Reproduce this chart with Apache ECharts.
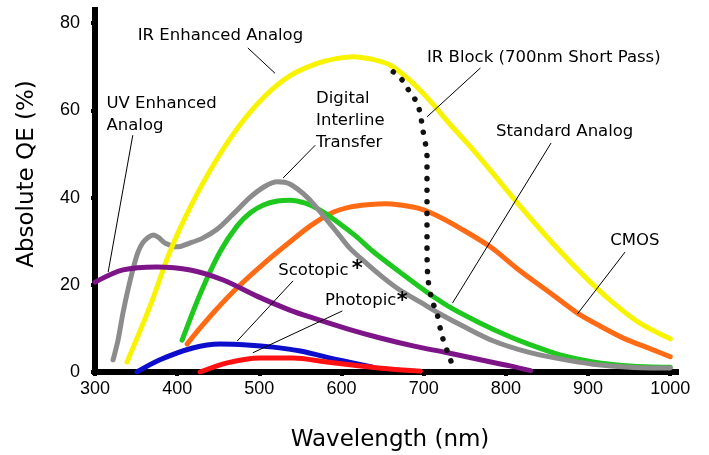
<!DOCTYPE html>
<html>
<head>
<meta charset="utf-8">
<script src="https://cdn.jsdelivr.net/npm/echarts@6/dist/echarts.min.js"></script>
<style>
  html, body { margin: 0; padding: 0; background: #ffffff; }
  #chart { width: 709px; height: 455px; }
</style>
</head>
<body>
<div id="chart"></div>
<script>
// Axis ticks
const wavelengthTicks = [300, 400, 500, 600, 700, 800, 900, 1000];
const qeTicks = [0, 20, 40, 60, 80];

// Quantum efficiency curves: [wavelength (nm), absolute QE (%)]
const irEnhancedAnalog = [
  [339, 2.3], [367, 15.1], [391, 27.5], [416, 37.8], [446, 48.1], [477, 56.8],
  [507, 63.3], [537, 67.9], [568, 70.6], [595, 71.9], [615, 72.3], [637, 71.7],
  [659, 70.4], [683, 66.9], [708, 62.1], [732, 56.8], [757, 51.6], [787, 44.9],
  [817, 38.1], [858, 29.3], [899, 21.3], [931, 15.8], [963, 11.2], [1000, 7.6]
];
const digitalInterline = [
  [322, 2.8], [328, 7.3], [334, 13.5], [340, 18.8], [346, 23.4], [352, 27.3],
  [358, 29.6], [365, 30.9], [371, 31.4], [377, 30.9], [385, 29.6], [400, 28.7],
  [416, 29.6], [431, 30.7], [449, 32.8], [468, 36.2], [489, 40.1], [507, 42.6],
  [522, 43.6], [537, 43.1], [558, 40.1], [578, 35.8], [595, 31.9], [610, 28.4],
  [631, 24.8], [653, 21.3], [671, 18.8], [696, 16.0], [720, 13.3], [750, 10.3],
  [785, 7.1], [826, 4.6], [866, 3.0], [906, 1.8], [951, 1.1], [1000, 0.9]
];
const cmos = [
  [406, 7.3], [428, 17.9], [452, 27.5], [473, 33.5], [489, 36.5], [505, 38.3],
  [522, 39.2], [537, 39.4], [556, 38.7], [574, 37.1], [595, 34.4], [617, 31.2],
  [638, 27.7], [671, 22.9], [704, 18.3], [736, 14.4], [769, 11.2], [802, 8.3],
  [826, 6.5], [866, 3.9], [906, 2.3], [951, 1.4], [1000, 1.1]
];
const standardAnalog = [
  [412, 6.4], [428, 10.1], [446, 14.0], [473, 19.3], [505, 24.8], [537, 29.8],
  [562, 33.5], [586, 36.3], [610, 37.8], [635, 38.4], [653, 38.6], [671, 38.3],
  [696, 37.4], [720, 35.5], [744, 33.0], [781, 28.7], [817, 23.2], [854, 18.1],
  [887, 13.5], [915, 10.5], [945, 7.6], [976, 5.3], [1000, 3.5]
];
const uvEnhancedAnalog = [
  [300, 20.6], [334, 23.4], [375, 24.1], [416, 23.4], [456, 21.1], [497, 17.4],
  [537, 14.2], [565, 12.4], [607, 9.9], [647, 7.8], [687, 6.0], [729, 4.4],
  [769, 2.8], [805, 1.4], [830, 0.3]
];
const scotopic = [
  [351, 0.0], [379, 2.8], [419, 5.5], [452, 6.4], [485, 6.2], [517, 5.7],
  [550, 4.8], [595, 2.8], [638, 1.1]
];
const photopic = [
  [428, 0.0], [461, 2.1], [501, 3.2], [541, 3.2], [582, 2.3], [623, 1.4],
  [659, 0.7], [696, 0.2]
];
const irBlock = [
  [663, 68.8], [674, 66.9], [683, 64.2], [692, 61.7], [696, 58.9], [699, 55.5],
  [704, 49.3], [704, 39.4], [704, 30.3], [705, 21.8], [710, 16.5], [716, 13.5],
  [722, 8.5], [729, 4.6], [735, 1.6]
];

// Callout layout: text anchor and leader line ends, in axis units
const callouts = [
  { text: 'IR Enhanced Analog', at: [352, 77.0], leader: [[486, 74.3], [519, 68.5]] },
  { text: 'UV Enhanced\nAnalog', at: [314, 61.4], leader: [[346, 54.3], [316, 22.9]] },
  { text: 'Digital\nInterline\nTransfer', at: [569, 62.6], leader: [[568, 52.0], [529, 44.5]] },
  { text: 'IR Block (700nm Short Pass)', at: [704, 72.0], leader: [[769, 69.7], [704, 58.5]] },
  { text: 'Standard Analog', at: [788, 55.0], leader: [[855, 52.5], [735, 15.8]] },
  { text: 'CMOS', at: [927, 30.0], leader: [[945, 27.5], [887, 13.3]] },
  { text: 'Scotopic', at: [523, 23.2], star: [619, 23.4], leader: [[541, 20.9], [473, 7.1]] },
  { text: 'Photopic', at: [580, 16.3], star: [674, 16.2], leader: [[601, 14.0], [492, 4.4]] }
];

const FONT = 'DejaVu Sans';
const TICK_FONT = 'Liberation Sans';

function curve(name, data, color, z) {
  return {
    name: name,
    type: 'line',
    data: data,
    smooth: 0.3,
    showSymbol: false,
    symbol: 'none',
    z: z,
    lineStyle: { color: color, width: 5, cap: 'round', join: 'round' }
  };
}

const chart = echarts.init(document.getElementById('chart'), null, { renderer: 'canvas' });

const irBlockSeries = curve('IR Block', irBlock, '#111111', 20);
irBlockSeries.lineStyle = { color: '#111111', width: 5.5, type: [0.1, 11.5], cap: 'round' };

chart.setOption({
  animation: false,
  backgroundColor: '#ffffff',
  grid: { left: 95, right: 33, top: 10, bottom: 83 },
  xAxis: {
    type: 'value',
    min: 300,
    max: 1007,
    interval: 100,
    axisLine: { lineStyle: { color: '#000000', width: 6, cap: 'square' } },
    axisTick: {
      customValues: wavelengthTicks,
      length: 4,
      lineStyle: { color: '#000000', width: 4 }
    },
    axisLabel: {
      customValues: wavelengthTicks,
      formatter: (v) => String(v),
      margin: 8,
      color: '#000000',
      fontFamily: TICK_FONT,
      fontSize: 18
    },
    splitLine: { show: false }
  },
  yAxis: {
    type: 'value',
    min: 0,
    max: 83,
    interval: 20,
    axisLine: { show: true, lineStyle: { color: '#000000', width: 6, cap: 'square' } },
    axisTick: {
      show: true,
      customValues: qeTicks,
      length: 4,
      lineStyle: { color: '#000000', width: 4 }
    },
    axisLabel: {
      customValues: qeTicks,
      formatter: (v) => String(v),
      margin: 15,
      color: '#000000',
      fontFamily: TICK_FONT,
      fontSize: 18
    },
    splitLine: { show: false }
  },
  series: [
    curve('Scotopic', scotopic, '#0d0dcc', 2),
    curve('Photopic', photopic, '#ff1111', 3),
    curve('Standard Analog', standardAnalog, '#ff6a14', 4),
    curve('CMOS', cmos, '#1ec81e', 5),
    curve('Digital Interline Transfer', digitalInterline, '#8c8c8c', 6),
    curve('IR Enhanced Analog', irEnhancedAnalog, '#f8f400', 7),
    curve('UV Enhanced Analog', uvEnhancedAnalog, '#7d1589', 8),
    irBlockSeries
  ]
});

// Axis titles and callouts
const px = (p) => chart.convertToPixel({ gridIndex: 0 }, p);
const graphics = [
  {
    type: 'text', x: 390, y: 440, z: 50,
    style: { text: 'Wavelength (nm)', fontFamily: FONT, fontSize: 23, fill: '#000', align: 'center', verticalAlign: 'middle' }
  },
  {
    type: 'text', x: 27, y: 174, rotation: Math.PI / 2, z: 50,
    style: { text: 'Absolute QE (%)', fontFamily: FONT, fontSize: 23, fill: '#000', align: 'center', verticalAlign: 'middle' }
  }
];
callouts.forEach(function (c) {
  const a = px(c.at);
  const multi = c.text.indexOf('\n') >= 0;
  graphics.push({
    type: 'text', x: a[0], y: multi ? a[1] - 11 : a[1], z: 50,
    style: {
      text: c.text, fontFamily: FONT, fontSize: 16.5, fill: '#000',
      align: 'left', verticalAlign: multi ? 'top' : 'middle', lineHeight: 22
    }
  });
  if (c.star) {
    const s = px(c.star);
    graphics.push({
      type: 'text', x: s[0], y: s[1], z: 50,
      style: { text: '*', fontFamily: FONT, fontSize: 21, fontWeight: 'bold', fill: '#000', align: 'center', verticalAlign: 'middle' }
    });
  }
  const p1 = px(c.leader[0]);
  const p2 = px(c.leader[1]);
  graphics.push({
    type: 'line', z: 40,
    shape: { x1: p1[0], y1: p1[1], x2: p2[0], y2: p2[1] },
    style: { stroke: '#000', lineWidth: 1 }
  });
});
chart.setOption({ graphic: graphics });
</script>
</body>
</html>
